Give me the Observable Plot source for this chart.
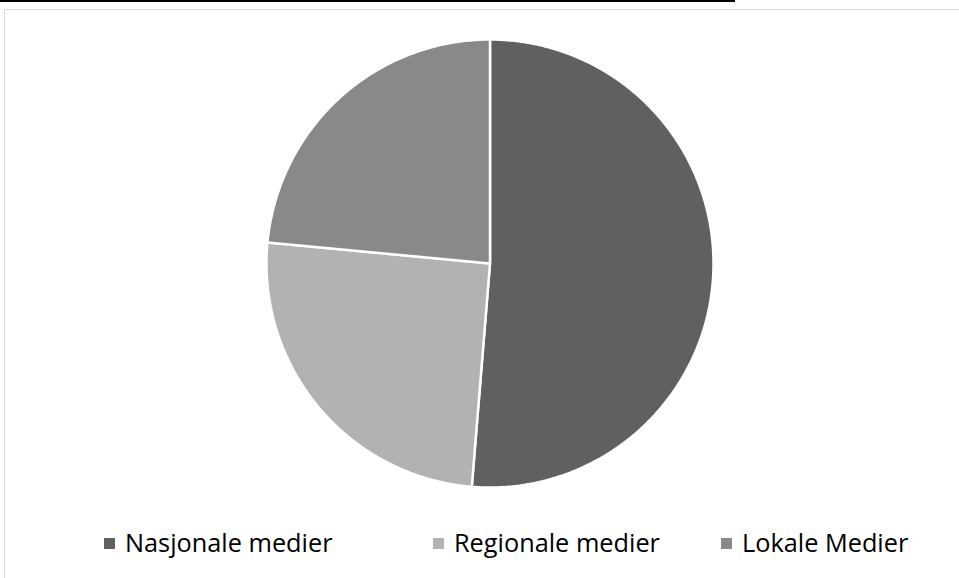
<!DOCTYPE html>
<html>
<head>
<meta charset="utf-8">
<script src="https://cdn.jsdelivr.net/npm/d3@7"></script>
<script src="https://cdn.jsdelivr.net/npm/@observablehq/plot@0.6"></script>
<style>
  html, body { margin: 0; padding: 0; background: #fff; width: 959px; height: 578px; overflow: hidden; }
  #rule { position: absolute; left: 0; top: 0; width: 735px; height: 2px; background: #000; }
  #frame { position: absolute; left: 4px; top: 9px; width: 1000px; height: 1000px; border: 1px solid #d9d9d9; box-sizing: border-box; }
  #chart { position: absolute; left: 0; top: 0; }
  #legend { position: absolute; left: 0; top: 526px; width: 959px; height: 32px; font-family: "Open Sans", sans-serif; font-size: 25.3px; color: #000; }
  .item { position: absolute; top: 0; height: 32px; display: flex; align-items: center; white-space: nowrap; }
  .sw { width: 11px; height: 11px; margin-right: 10px; margin-top: 2px; flex: none; }
</style>
</head>
<body>
<div id="rule"></div>
<div id="frame"></div>
<div id="chart"></div>
<div id="legend"></div>
<script>
// Data
const categories = ["Nasjonale medier", "Regionale medier", "Lokale Medier"];
const shares = [51.3, 25.2, 23.5];
const colors = ["#606060", "#b2b2b2", "#898989"];

// Build slice polygons from d3.pie angles (in unit-circle data space)
const pie = d3.pie().sort(null).value(d => d.value)(categories.map((name, i) => ({name, value: shares[i]})));
const pts = [];
for (const s of pie) {
  const n = Math.max(2, Math.ceil((s.endAngle - s.startAngle) / 0.01));
  pts.push({name: s.data.name, x: 0, y: 0});
  for (let k = 0; k <= n; k++) {
    const a = s.startAngle + (s.endAngle - s.startAngle) * k / n;
    pts.push({name: s.data.name, x: Math.sin(a), y: Math.cos(a)});
  }
}

const W = 959, H = 520;
const plot = Plot.plot({
  width: W,
  height: H,
  marginLeft: 266,
  marginRight: 246,
  marginTop: 39,
  marginBottom: 33,
  style: {background: "transparent", overflow: "visible"},
  x: {domain: [-1, 1], axis: null},
  y: {domain: [-1, 1], axis: null},
  color: {domain: categories, range: colors},
  marks: [
    Plot.line(pts, {x: "x", y: "y", z: "name", fill: "name", stroke: "white", strokeWidth: 2.5, strokeLinejoin: "miter", curve: "linear-closed"})
  ]
});
document.getElementById("chart").appendChild(plot);

// Legend
const legendLeft = [104, 433, 721];
const legend = document.getElementById("legend");
categories.forEach((c, i) => {
  const it = document.createElement("div");
  it.className = "item";
  it.style.left = legendLeft[i] + "px";
  const sw = document.createElement("span");
  sw.className = "sw";
  sw.style.background = colors[i];
  const t = document.createElement("span");
  t.textContent = c;
  it.appendChild(sw);
  it.appendChild(t);
  legend.appendChild(it);
});
</script>
</body>
</html>
